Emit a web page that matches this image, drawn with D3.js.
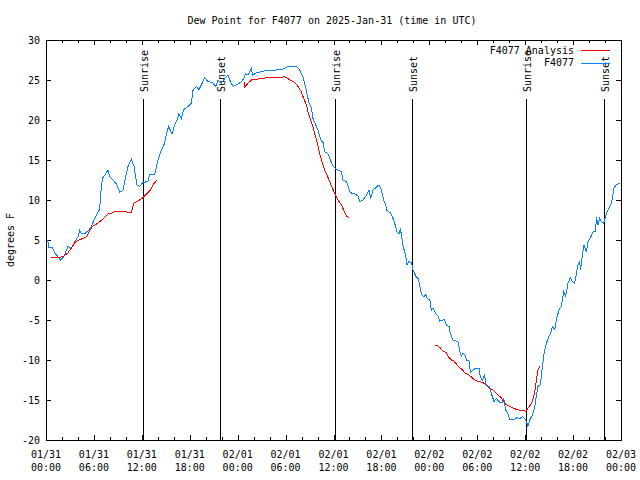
<!DOCTYPE html>
<html><head><meta charset="utf-8">
<script src="https://cdn.jsdelivr.net/npm/d3@7/dist/d3.min.js"></script>
<style>
body{margin:0;background:#fff;}
text{font-family:"DejaVu Sans Mono",monospace;font-size:10px;fill:#000;}
</style></head><body>
<svg id="chart" width="640" height="480"></svg>
<script>
const title = "Dew Point for F4077 on 2025-Jan-31 (time in UTC)";
const yLabel = "degrees F";
const yTicks = [-20,-15,-10,-5,0,5,10,15,20,25,30];
const seriesNames = ["F4077 Analysis","F4077"];
const seriesColors = ["#ff0000","#0a80ff"];

// hours since 2025-01-31 00:00 UTC
const obsHours = [0.21,0.38,0.80,1.09,1.50,1.80,2.22,2.75,3.18,3.59,4.01,4.22,4.43,4.85,5.38,5.68,6.10,6.39,6.72,6.85,7.06,7.35,7.76,7.98,8.39,8.82,9.23,9.64,9.98,10.27,10.69,11.02,11.39,11.73,12.15,12.77,12.99,13.61,14.02,14.45,14.86,15.08,15.36,15.78,16.12,16.40,16.65,16.95,17.24,17.78,18.21,18.41,18.83,19.16,19.46,19.87,20.29,20.84,21.25,21.54,21.96,22.38,22.79,23.09,23.42,24.04,24.47,24.76,25.01,25.29,25.72,25.85,26.35,27.17,28.01,28.85,29.48,30.30,31.35,31.77,32.18,32.39,32.68,32.93,33.23,33.43,33.77,34.06,34.40,34.69,34.90,35.31,35.61,35.94,36.36,36.56,36.99,37.19,37.62,37.82,38.12,38.65,39.07,39.28,39.69,40.12,40.45,40.66,40.95,41.37,41.70,42.00,42.29,42.54,42.70,43.13,43.45,43.66,43.95,44.20,44.38,44.50,44.70,44.92,45.13,45.20,45.45,45.75,45.96,46.29,46.58,46.79,47.01,47.33,47.55,47.71,48.05,48.26,48.46,48.80,49.09,49.30,49.92,50.14,50.46,50.64,50.96,51.59,51.80,52.01,52.22,52.52,52.64,52.97,53.14,53.47,53.81,54.22,54.39,54.64,54.93,55.06,55.27,55.56,55.77,56.10,56.40,56.81,57.15,57.31,57.56,57.85,58.06,58.69,58.98,59.32,59.65,59.94,60.15,60.35,60.65,60.91,61.19,61.41,61.61,61.91,62.11,62.36,62.66,62.95,63.20,63.41,63.70,63.99,64.24,64.54,64.83,65.08,65.36,65.66,65.91,66.20,66.42,66.62,66.83,66.92,67.17,67.37,67.67,67.87,68.29,68.49,68.83,68.92,69.12,69.33,69.55,69.83,70.17,70.46,70.80,71.12,71.42,71.83];
const obsValues = [5.0,4.0,4.1,3.4,2.9,2.5,2.9,4.2,4.0,4.8,5.4,6.2,5.75,5.8,6.25,6.7,7.7,8.3,8.8,10.8,12.7,13.1,13.75,12.9,12.5,12.0,11.0,11.2,12.9,14.2,15.1,14.2,11.9,11.7,12.2,12.3,13.2,13.2,15.0,16.25,17.1,18.3,19.2,18.25,19.4,20.0,20.8,20.2,21.3,21.7,22.1,23.7,24.2,23.8,24.4,25.3,24.8,24.7,24.2,25.0,24.6,25.2,25.6,24.8,24.2,24.5,24.8,25.2,25.8,25.6,26.5,25.6,25.9,26.1,26.25,26.25,26.3,26.7,26.7,26.25,25.4,24.6,23.3,22.1,21.5,20.2,19.4,18.75,17.5,17.2,16.0,15.8,15.0,14.25,13.8,13.75,13.5,12.5,12.3,11.7,10.9,10.8,10.5,9.8,10.0,10.6,11.2,10.2,11.25,11.6,11.9,11.25,10.0,9.4,8.7,8.4,7.7,7.1,6.0,5.8,6.5,5.6,4.25,3.5,2.5,1.9,2.3,2.2,1.25,0.5,0.2,-0.6,-1.8,-2.1,-1.8,-2.3,-2.45,-3.75,-3.5,-4.2,-4.5,-5.15,-4.95,-5.7,-5.8,-6.7,-7.5,-7.7,-8.9,-9.5,-9.1,-9.4,-10.0,-10.1,-11.5,-11.25,-11.0,-11.0,-12.1,-12.5,-11.9,-12.9,-13.25,-13.3,-14.2,-15.2,-14.8,-15.3,-15.3,-14.8,-16.25,-16.7,-17.4,-17.4,-17.2,-17.3,-17.1,-17.3,-17.7,-18.3,-17.3,-16.9,-16.0,-14.4,-13.3,-13.1,-11.25,-9.2,-7.9,-7.1,-6.7,-5.8,-6.2,-4.6,-3.75,-3.25,-1.5,-2.0,-0.4,0.3,-0.2,-0.4,0.8,1.9,2.3,1.25,3.1,4.4,3.5,4.8,5.5,6.0,6.1,7.9,6.9,7.7,7.3,7.1,8.3,8.9,9.6,11.5,11.9,12.1];

// analysis series; null separates runs
const anaHours = [0.68,1.72,2.22,2.75,3.18,3.72,4.13,4.63,5.06,5.38,5.81,6.31,6.72,7.23,7.76,8.31,8.82,9.64,10.14,10.69,10.98,11.39,11.73,12.15,12.65,13.07,13.49,13.90,
  18.0,
  24.79,24.88,25.29,25.72,26.35,26.97,28.01,29.05,29.89,30.10,30.73,31.14,31.56,31.98,32.27,32.61,32.81,33.02,33.36,33.65,33.93,34.27,34.61,34.90,35.19,35.52,35.86,36.15,36.56,36.99,37.28,37.62,37.94,
  42.0,
  48.67,49.09,49.39,49.71,50.14,50.46,50.76,51.05,51.46,51.80,52.14,52.43,52.84,53.27,53.68,54.22,54.72,55.22,55.65,55.97,56.40,56.72,57.02,57.31,57.65,58.06,58.48,58.98,59.53,60.07,60.35,60.69,60.91,61.19,61.41,61.61,61.82];
const anaValues = [2.8,2.8,3.0,3.4,4.0,4.8,5.0,5.2,5.4,6.0,6.7,7.0,7.3,7.7,8.25,8.4,8.6,8.6,8.5,8.4,9.6,9.8,10.0,10.3,10.8,11.25,12.0,12.5,
  null,
  24.8,24.1,24.6,25.0,25.1,25.2,25.3,25.3,25.4,25.3,24.9,24.7,24.2,23.5,22.7,21.9,21.0,20.4,19.4,18.3,17.3,15.8,14.6,13.75,13.1,12.3,11.5,10.8,10.0,9.4,8.75,8.0,7.8,
  null,
  -8.1,-8.25,-8.5,-8.9,-9.1,-9.7,-10.0,-10.1,-10.6,-11.0,-11.2,-11.6,-11.8,-12.1,-12.5,-12.7,-12.8,-13.25,-13.7,-13.75,-14.2,-14.5,-14.7,-15.2,-15.6,-15.8,-16.0,-16.2,-16.3,-16.4,-16.0,-15.6,-15.2,-14.0,-12.5,-11.25,-10.75];

const sunHours = [12.12,21.78,36.14,45.83,60.10,69.87];
const sunLabels = ["Sunrise","Sunset","Sunrise","Sunset","Sunrise","Sunset"];

const t0 = Date.UTC(2025,0,31);
const toDate = h => new Date(t0 + h*3600e3);

const svg = d3.select("#chart");
const L=46, R=621, T=40, B=440;
const x = d3.scaleUtc().domain([toDate(0), toDate(72)]).range([L, R]);
const y = d3.scaleLinear().domain([-20,30]).range([B, T]);
const px = v => Math.round(v)+0.5;

const g = svg.append("g").attr("shape-rendering","crispEdges");

// sunrise / sunset lines
sunHours.forEach((h,i)=>{
  const xx = px(x(toDate(h)));
  g.append("line").attr("x1",xx).attr("x2",xx).attr("y1",99).attr("y2",B)
    .attr("stroke","#000").attr("stroke-width",1);
  svg.append("text").attr("transform",`translate(${xx+0.5},92) rotate(-90)`)
    .attr("dominant-baseline","central").attr("text-anchor","start").text(sunLabels[i]);
});

// ticks
const majorX = d3.utcHour.every(6).range(toDate(0), toDate(72.01));
const minorX = d3.utcHour.every(2).range(toDate(0), toDate(72.01));
minorX.forEach(d=>{
  const xx = px(x(d));
  const isMajor = d.getUTCHours()%6===0;
  const len = isMajor?5:3;
  g.append("line").attr("x1",xx).attr("x2",xx).attr("y1",B).attr("y2",B-len).attr("stroke","#000");
  g.append("line").attr("x1",xx).attr("x2",xx).attr("y1",T).attr("y2",T+len).attr("stroke","#000");
});
const fmtD = d3.utcFormat("%m/%d"), fmtT = d3.utcFormat("%H:%M");
majorX.forEach(d=>{
  const xx = x(d);
  svg.append("text").attr("x",xx).attr("y",454).attr("text-anchor","middle").attr("dominant-baseline","central").text(fmtD(d));
  svg.append("text").attr("x",xx).attr("y",467).attr("text-anchor","middle").attr("dominant-baseline","central").text(fmtT(d));
});
yTicks.forEach(v=>{
  const yy = px(y(v));
  g.append("line").attr("x1",L).attr("x2",L+5).attr("y1",yy).attr("y2",yy).attr("stroke","#000");
  g.append("line").attr("x1",R).attr("x2",R-5).attr("y1",yy).attr("y2",yy).attr("stroke","#000");
  svg.append("text").attr("x",40).attr("y",y(v)).attr("text-anchor","end").attr("dominant-baseline","central").text(v);
});

// data lines
const line = d3.line().defined(d=>d[1]!==null).x(d=>x(toDate(d[0]))).y(d=>y(d[1]));
const obs = obsHours.map((h,i)=>[h,obsValues[i]]);
const ana = anaHours.map((h,i)=>[h,anaValues[i]]);
svg.append("path").datum(obs).attr("d",line).attr("fill","none").attr("stroke",seriesColors[1]).attr("stroke-width",1).attr("shape-rendering","crispEdges");
svg.append("path").datum(ana).attr("d",line).attr("fill","none").attr("stroke",seriesColors[0]).attr("stroke-width",1).attr("shape-rendering","crispEdges");

// frame
g.append("rect").attr("x",L+0.5).attr("y",T+0.5).attr("width",R-L).attr("height",B-T).attr("fill","none").attr("stroke","#000");

// legend
seriesNames.forEach((n,i)=>{
  const yy = 50 + i*12.5;
  svg.append("text").attr("x",574).attr("y",yy).attr("text-anchor","end").attr("dominant-baseline","central").text(n);
  svg.append("line").attr("x1",581).attr("x2",610).attr("y1",px(yy)).attr("y2",px(yy))
    .attr("stroke",seriesColors[i]).attr("shape-rendering","crispEdges");
});

// title & y label
svg.append("text").attr("x",332).attr("y",20).attr("text-anchor","middle").attr("dominant-baseline","central").text(title);
svg.append("text").attr("transform","translate(10,240) rotate(-90)").attr("text-anchor","middle").attr("dominant-baseline","central").text(yLabel);
</script></body></html>
